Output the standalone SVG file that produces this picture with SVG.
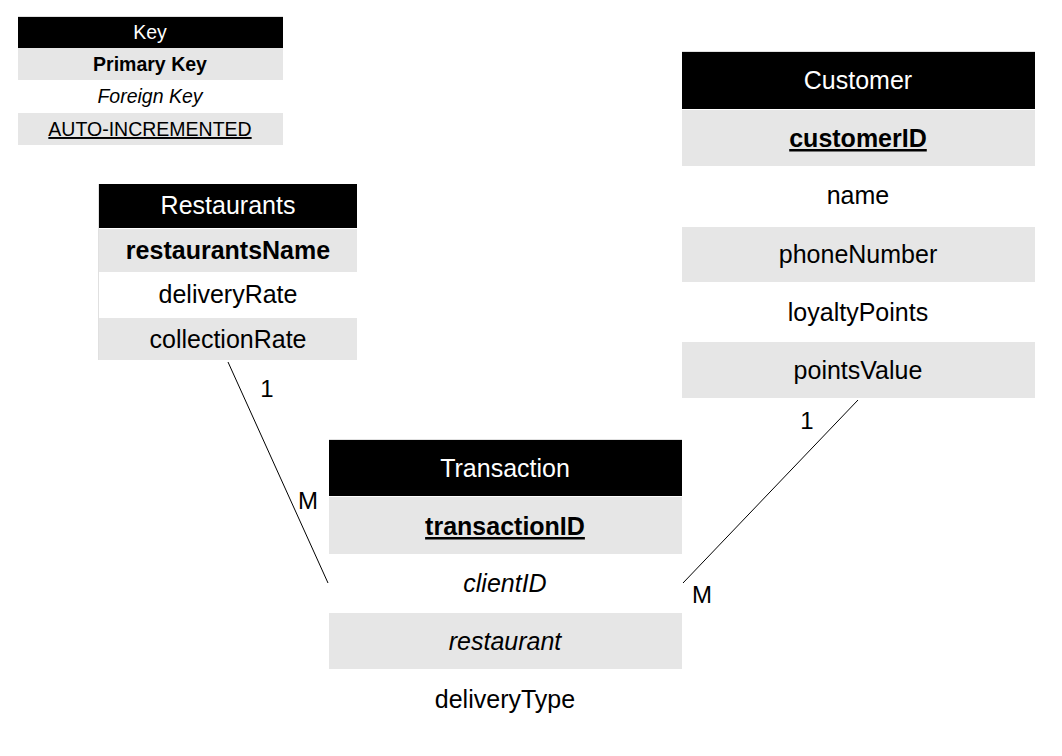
<svg xmlns="http://www.w3.org/2000/svg" width="1062" height="756" viewBox="0 0 1062 756">
<style>
text{font-family:"Liberation Sans",Arial,sans-serif;fill:#000;text-anchor:middle}
.hd{fill:#000}
.g{fill:#e6e6e6}
.ht{fill:#fff}
.k{font-size:19.5px}
.t{font-size:25px}
.b{font-weight:bold}
.i{font-style:italic}
.u{text-decoration:underline}
.edge{stroke:#e0e0e0;stroke-width:1;fill:none}
.conn{stroke:#000;stroke-width:1;fill:none}
.lbl{font-size:24px}
</style>
<rect width="1062" height="756" fill="#fff"/>
<g id="key">
<line class="edge" x1="18" y1="16.5" x2="283" y2="16.5"/>
<rect class="hd" x="18" y="17" width="265" height="31"/>
<text class="k ht" x="150" y="39">Key</text>
<rect class="g" x="18" y="48" width="265" height="32"/>
<text class="k b" x="150" y="71">Primary Key</text>
<text class="k i" x="150" y="103">Foreign Key</text>
<rect class="g" x="18" y="113" width="265" height="32"/>
<text class="k u" x="150" y="136">AUTO-INCREMENTED</text>
</g>
<g id="restaurants">
<line class="edge" x1="98.5" y1="184" x2="98.5" y2="360"/>
<rect class="hd" x="99" y="184" width="258" height="44"/>
<text class="t ht" x="228" y="214">Restaurants</text>
<rect class="g" x="99" y="229" width="258" height="43"/>
<text class="t b" x="228" y="259">restaurantsName</text>
<text class="t" x="228" y="303">deliveryRate</text>
<rect class="g" x="99" y="318" width="258" height="42"/>
<text class="t" x="228" y="348">collectionRate</text>
</g>
<g id="customer">
<line class="edge" x1="682" y1="51.5" x2="1035" y2="51.5"/>
<rect class="hd" x="682" y="52" width="353" height="57"/>
<text class="t ht" x="858" y="89">Customer</text>
<rect class="g" x="682" y="110" width="353" height="56"/>
<text class="t b u" x="858" y="147">customerID</text>
<text class="t" x="858" y="204">name</text>
<rect class="g" x="682" y="227" width="353" height="55"/>
<text class="t" x="858" y="263">phoneNumber</text>
<text class="t" x="858" y="321">loyaltyPoints</text>
<rect class="g" x="682" y="342" width="353" height="56"/>
<text class="t" x="858" y="379">pointsValue</text>
</g>
<g id="transaction">
<line class="edge" x1="329" y1="439.5" x2="682" y2="439.5"/>
<rect class="hd" x="329" y="440" width="353" height="56"/>
<text class="t ht" x="505" y="477">Transaction</text>
<rect class="g" x="329" y="497" width="353" height="57"/>
<text class="t b u" x="505" y="535">transactionID</text>
<text class="t i" x="505" y="592">clientID</text>
<rect class="g" x="329" y="613" width="353" height="56"/>
<text class="t i" x="505" y="650">restaurant</text>
<text class="t" x="505" y="708">deliveryType</text>
</g>
<g id="connectors">
<line class="conn" x1="228" y1="362" x2="328" y2="583"/>
<text class="lbl" x="267" y="397">1</text>
<text class="lbl" x="308" y="509">M</text>
<line class="conn" x1="858" y1="400" x2="683" y2="583"/>
<text class="lbl" x="807" y="429">1</text>
<text class="lbl" x="702" y="603">M</text>
</g>
</svg>
